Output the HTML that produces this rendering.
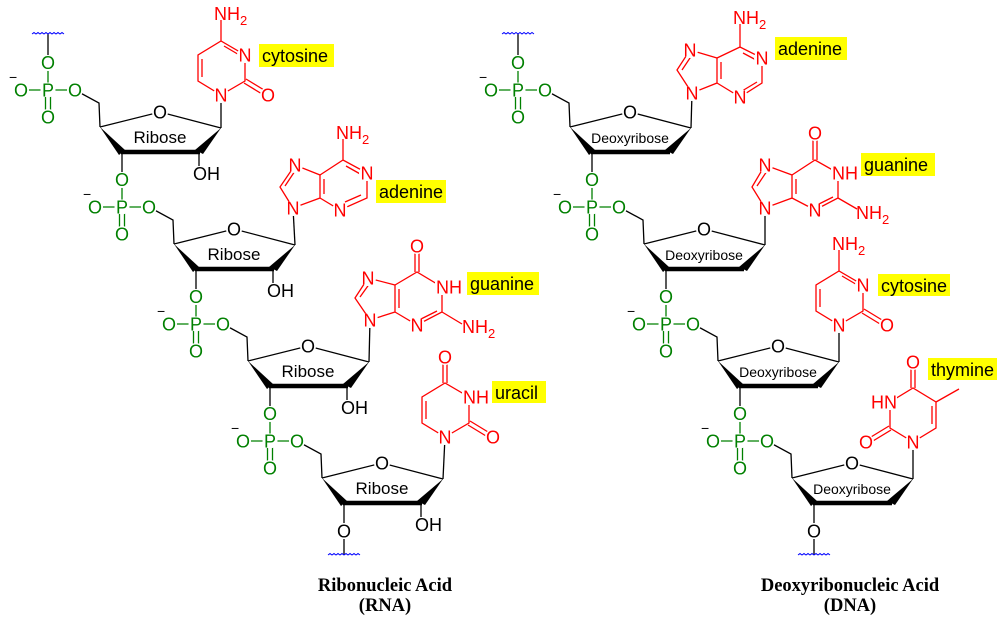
<!DOCTYPE html>
<html><head><meta charset="utf-8"><style>
html,body{margin:0;padding:0;background:#fff}
svg{display:block}
text{font-family:"Liberation Sans",sans-serif}
.a{font-size:18px;text-anchor:middle}
.s{text-anchor:start}
.e{text-anchor:end}
.g{fill:#008000}.r{fill:#ff0000}.k{fill:#000}
.kb{stroke:#000;stroke-width:1.3;fill:none}
.gb{stroke:#008000;stroke-width:1.3;fill:none}
.rb{stroke:#ff0000;stroke-width:1.3;fill:none}
.wv{stroke:#0000ff;stroke-width:1;fill:none}
.w{fill:#fff}
.lab{font-size:18px;fill:#000}
.sug{font-size:17px;text-anchor:middle;fill:#000}
.dsug{font-size:14px;text-anchor:middle;fill:#000}
.tt{font-family:"Liberation Serif",serif;font-weight:bold;font-size:18.5px;text-anchor:middle}
</style></head><body>
<svg width="1007" height="623" viewBox="0 0 1007 623" xmlns="http://www.w3.org/2000/svg">
<defs>
<g id="bb">
<path class="gb" d="M0,-27V0M-27,0H27M-2.5,0V27M2.5,0V27"/>
<path class="kb" d="M27,0L51,13L52,37M52,37L112,22L173,38M74,62V90"/>
<polygon points="52,37 71,65 77,60" fill="#000"/>
<line x1="73" y1="62" x2="152" y2="62" stroke="#000" stroke-width="4.5"/>
<polygon points="147,60 155,64 173,38" fill="#000"/>
<circle class="w" cx="0" cy="-27" r="8"/><circle class="w" cx="-27" cy="0" r="8"/><circle class="w" cx="0" cy="0" r="7.5"/><circle class="w" cx="27" cy="0" r="8"/><circle class="w" cx="0" cy="27" r="8"/><circle class="w" cx="112" cy="22" r="8"/>
<text class="a g" x="0" y="-21">O</text><text class="a g" x="-27" y="6.5">O</text><text class="a g" x="0" y="6.5">P</text><text class="a g" x="27" y="6.5">O</text><text class="a g" x="0" y="33.5">O</text>
<text x="-39" y="-8" font-size="14">−</text>
<text class="a k" x="112" y="28.5">O</text>
</g>
<g id="oh"><path class="kb" d="M151,62V76"/><text class="a k s" x="145" y="90">OH</text></g>
<path id="wave" class="wv" d="M-16,0 l2,-1.5 l2,1.5 l2,-1.5 l2,1.5 l2,-1.5 l2,1.5 l2,-1.5 l2,1.5 l2,-1.5 l2,1.5 l2,-1.5 l2,1.5 l2,-1.5 l2,1.5 l2,-1.5 l2,1.5"/>
</defs>

<!-- ============ RNA ============ -->
<path class="kb" d="M48,34V56"/><use href="#wave" x="48" y="34"/>
<g transform="translate(48,90)"><use href="#bb"/><use href="#oh"/><text class="sug" x="112" y="53">Ribose</text></g>
<g transform="translate(122,207)"><use href="#bb"/><use href="#oh"/><text class="sug" x="112" y="53">Ribose</text></g>
<g transform="translate(196,324)"><use href="#bb"/><use href="#oh"/><text class="sug" x="112" y="53">Ribose</text></g>
<g transform="translate(270,441)"><use href="#bb"/><use href="#oh"/>
<path class="kb" d="M74,98V114"/><circle class="w" cx="74" cy="90" r="8"/>
<text class="a k" x="74" y="96.5">O</text>
<text class="sug" x="112" y="53">Ribose</text>
<use href="#wave" x="74" y="114"/>
</g>

<!-- cytosine RNA -->
<path class="kb" d="M221,128V95"/>
<path class="rb" d="M221,95L245,81L245,55L221,41L198,55L198,81Z M202,59V77 M224,46L241,56 M221,41V20 M244,83L267,97 M246,79L269,93"/>
<circle class="w" cx="221" cy="95" r="8"/><circle class="w" cx="245" cy="55" r="8"/><circle class="w" cx="268" cy="95" r="8"/>
<text class="a r" x="221" y="101.5">N</text><text class="a r" x="245" y="61.5">N</text><text class="a r" x="268" y="101.5">O</text>
<text class="a r s" x="214" y="20">NH<tspan dy="5" font-size="13">2</tspan></text>
<rect x="259" y="44" width="75" height="23" fill="#ffff00"/><text class="lab" x="262" y="62">cytosine</text>

<!-- adenine RNA -->
<path class="kb" d="M295,245L293,208"/>
<path class="rb" d="M293,208L280,187L295,165L320,175L320,198Z M320,175L343,160L367,173L367,198L340,210L320,198 M285,186L295,171 M324,179V194 M346,166L362,175 M361,195L345,202 M343,160V139"/>
<circle class="w" cx="293" cy="208" r="8"/><circle class="w" cx="295" cy="165" r="8"/><circle class="w" cx="367" cy="173" r="8"/><circle class="w" cx="340" cy="210" r="8"/>
<text class="a r" x="293" y="214.5">N</text><text class="a r" x="295" y="171.5">N</text><text class="a r" x="367" y="179.5">N</text><text class="a r" x="340" y="216.5">N</text>
<text class="a r s" x="336" y="139">NH<tspan dy="5" font-size="13">2</tspan></text>
<rect x="376" y="180" width="70" height="23" fill="#ffff00"/><text class="lab" x="379" y="198">adenine</text>

<!-- guanine RNA -->
<path class="kb" d="M369,362L370,320"/>
<path class="rb" d="M370,320L355,298L368,278L395,285L395,312Z M395,285L417,272L442,287L442,312L417,325L395,312 M360,297L370,283 M399,289V308 M437,311L419,320 M442,312L462,324 M415,272V252 M419,272V252"/>
<circle class="w" cx="370" cy="320" r="8"/><circle class="w" cx="368" cy="278" r="8"/><circle class="w" cx="417" cy="325" r="8"/><circle class="w" cx="417" cy="246" r="8"/><rect class="w" x="435" y="279" width="25" height="16"/>
<text class="a r" x="370" y="326.5">N</text><text class="a r" x="368" y="284.5">N</text><text class="a r" x="417" y="331.5">N</text><text class="a r" x="417" y="252.5">O</text>
<text class="a r s" x="436" y="293.5">NH</text>
<text class="a r s" x="462" y="333">NH<tspan dy="5" font-size="13">2</tspan></text>
<rect x="467" y="272" width="72" height="23" fill="#ffff00"/><text class="lab" x="470" y="290">guanine</text>

<!-- uracil RNA -->
<path class="kb" d="M443,479L445,437"/>
<path class="rb" d="M445,437L469,423L469,397L445,383L422,397L422,423Z M426,401V419 M468,425L491,439 M470,421L493,435 M443,383V357 M447,383V357"/>
<circle class="w" cx="445" cy="437" r="8"/><circle class="w" cx="493" cy="437" r="8"/><circle class="w" cx="445" cy="357" r="8"/><rect class="w" x="462" y="389" width="25" height="16"/>
<text class="a r" x="445" y="443.5">N</text><text class="a r" x="493" y="443.5">O</text><text class="a r" x="445" y="363.5">O</text>
<text class="a r s" x="463" y="403.5">NH</text>
<rect x="492" y="381" width="54" height="22" fill="#ffff00"/><text class="lab" x="495" y="399">uracil</text>

<text class="tt" x="385" y="591">Ribonucleic Acid</text>
<text class="tt" x="385" y="611">(RNA)</text>

<!-- ============ DNA ============ -->
<path class="kb" d="M518,34V56"/><use href="#wave" x="518" y="34"/>
<g transform="translate(518,90)"><use href="#bb"/><text class="dsug" x="112" y="53">Deoxyribose</text></g>
<g transform="translate(592,207)"><use href="#bb"/><text class="dsug" x="112" y="53">Deoxyribose</text></g>
<g transform="translate(666,324)"><use href="#bb"/><text class="dsug" x="112" y="53">Deoxyribose</text></g>
<g transform="translate(740,441)"><use href="#bb"/>
<path class="kb" d="M74,98V114"/><circle class="w" cx="74" cy="90" r="8"/>
<text class="a k" x="74" y="96.5">O</text>
<text class="dsug" x="112" y="53">Deoxyribose</text>
<use href="#wave" x="74" y="114"/>
</g>

<!-- adenine DNA -->
<path class="kb" d="M691,128L692,93"/>
<path class="rb" d="M692,93L677,70L690,50L717,58L717,83Z M717,58L740,47L762,58L762,83L740,97L717,83 M682,70L692,55 M721,62V79 M743,53L758,61 M757,82L742,91 M740,47V24"/>
<circle class="w" cx="692" cy="93" r="8"/><circle class="w" cx="690" cy="50" r="8"/><circle class="w" cx="762" cy="58" r="8"/><circle class="w" cx="740" cy="97" r="8"/>
<text class="a r" x="692" y="99.5">N</text><text class="a r" x="690" y="56.5">N</text><text class="a r" x="762" y="64.5">N</text><text class="a r" x="740" y="103.5">N</text>
<text class="a r s" x="733" y="24">NH<tspan dy="5" font-size="13">2</tspan></text>
<rect x="775" y="37" width="72" height="23" fill="#ffff00"/><text class="lab" x="778" y="55">adenine</text>

<!-- guanine DNA -->
<path class="kb" d="M765,245V208"/>
<path class="rb" d="M765,208L752,187L765,165L792,175L792,198Z M792,175L815,160L838,173L838,198L815,210L792,198 M757,186L767,171 M796,179V194 M833,197L817,205 M838,198L857,209 M813,160V139 M817,160V139"/>
<circle class="w" cx="765" cy="208" r="8"/><circle class="w" cx="765" cy="165" r="8"/><circle class="w" cx="815" cy="210" r="8"/><circle class="w" cx="815" cy="133" r="8"/><rect class="w" x="831" y="165" width="25" height="16"/>
<text class="a r" x="765" y="214.5">N</text><text class="a r" x="765" y="171.5">N</text><text class="a r" x="815" y="216.5">N</text><text class="a r" x="815" y="139.5">O</text>
<text class="a r s" x="832" y="179.5">NH</text>
<text class="a r s" x="856" y="219">NH<tspan dy="5" font-size="13">2</tspan></text>
<rect x="861" y="153" width="74" height="23" fill="#ffff00"/><text class="lab" x="864" y="171">guanine</text>

<!-- cytosine DNA -->
<path class="kb" d="M839,362V325"/>
<path class="rb" d="M839,325L863,311L863,285L839,271L816,285L816,311Z M820,289V307 M842,276L859,286 M839,271V250 M862,313L885,327 M864,309L887,323"/>
<circle class="w" cx="839" cy="325" r="8"/><circle class="w" cx="863" cy="285" r="8"/><circle class="w" cx="887" cy="325" r="8"/>
<text class="a r" x="839" y="331.5">N</text><text class="a r" x="863" y="291.5">N</text><text class="a r" x="887" y="331.5">O</text>
<text class="a r s" x="832" y="250">NH<tspan dy="5" font-size="13">2</tspan></text>
<rect x="878" y="274" width="72" height="22" fill="#ffff00"/><text class="lab" x="881" y="292">cytosine</text>

<!-- thymine DNA -->
<path class="kb" d="M913,479V442"/>
<path class="rb" d="M913,442L890,428L890,402L913,388L936,402L936,428Z M932,406V424 M889,426L866,440 M891,430L868,444 M911,388V362 M915,388V362 M936,402L959,389"/>
<circle class="w" cx="913" cy="442" r="8"/><circle class="w" cx="866" cy="442" r="8"/><circle class="w" cx="913" cy="362" r="8"/><rect class="w" x="871" y="394" width="26" height="16"/>
<text class="a r" x="913" y="448.5">N</text><text class="a r" x="866" y="448.5">O</text><text class="a r" x="913" y="368.5">O</text>
<text class="a r e" x="897" y="408.5">HN</text>
<rect x="928" y="358" width="69" height="22" fill="#ffff00"/><text class="lab" x="931" y="376">thymine</text>

<text class="tt" x="850" y="591">Deoxyribonucleic Acid</text>
<text class="tt" x="850" y="611">(DNA)</text>
</svg>
</body></html>
